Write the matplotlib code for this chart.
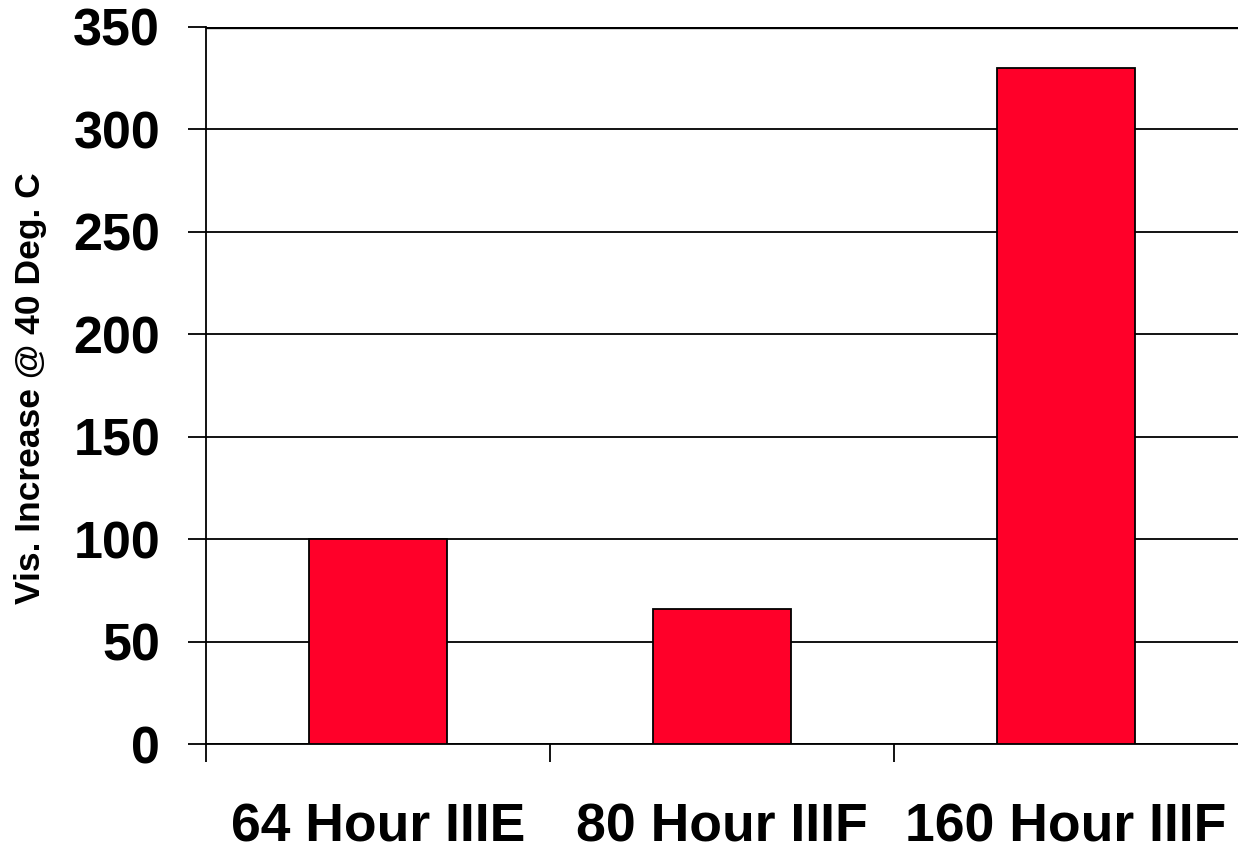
import matplotlib.pyplot as plt
from matplotlib.ticker import FixedLocator

plt.rcParams['font.family'] = ['Liberation Sans', 'DejaVu Sans']
plt.rcParams['font.weight'] = 'bold'

categories = ['64 Hour IIIE', '80 Hour IIIF', '160 Hour IIIF']
vis_increase = [100, 66, 330]
y_ticks = [0, 50, 100, 150, 200, 250, 300, 350]

fig = plt.figure(figsize=(12.38, 8.51), dpi=100)
ax = fig.add_axes([0.1664, 0.1257, 0.8336, 0.8426])

x = range(len(categories))
ax.bar(x, vis_increase, width=0.4, color='#FF0029', edgecolor='black',
       linewidth=1.3, zorder=3)

ax.set_xlim(-0.5, len(categories) - 0.5)
ax.set_ylim(0, 350)
ax.set_yticks(y_ticks)
ax.set_xticks(list(x))
ax.set_xticklabels(categories)
ax.xaxis.set_minor_locator(FixedLocator([-0.5, 0.5, 1.5]))

ax.grid(axis='y', color='black', linewidth=1.3, zorder=0)
ax.axhline(350, color='black', linewidth=2.4, zorder=1)

for s in ['top', 'right']:
    ax.spines[s].set_visible(False)
ax.spines['left'].set_linewidth(1.3)
ax.spines['bottom'].set_linewidth(1.3)

ax.tick_params(axis='y', length=13, width=1.3, pad=20, labelsize=37.5)
ax.tick_params(axis='x', which='major', length=0, pad=42, labelsize=38.5)
ax.tick_params(axis='x', which='minor', length=13, width=1.3)
for lab in ax.get_xticklabels() + ax.get_yticklabels():
    lab.set_fontweight('bold')

ax.set_ylabel('Vis. Increase @ 40 Deg. C', fontsize=25.5, fontweight='bold')
ax.yaxis.set_label_coords(-0.154, 0.4965)

fig.savefig('out.png', dpi=100)
